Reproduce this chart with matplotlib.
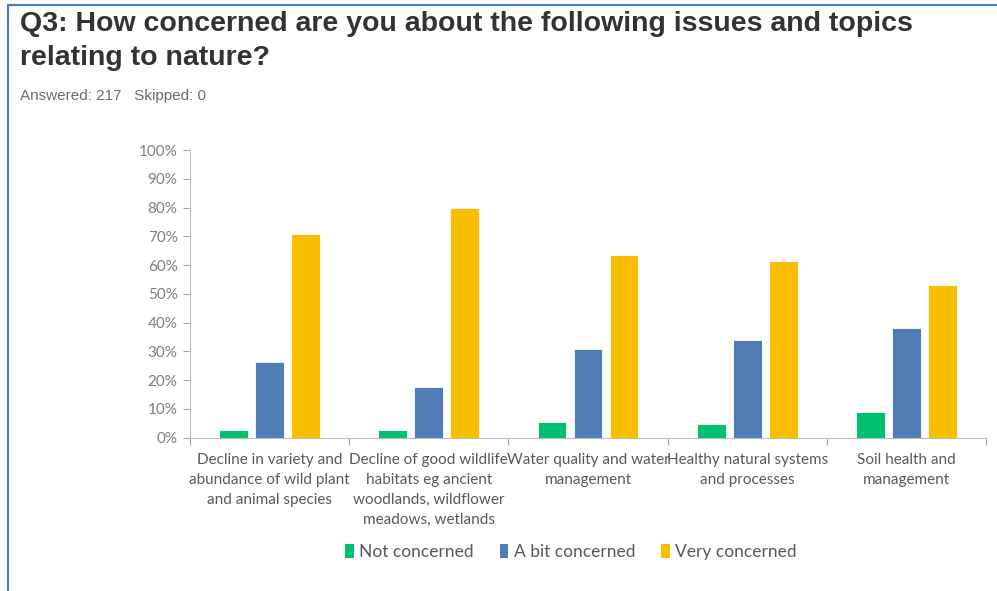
import numpy as np
import matplotlib.pyplot as plt
from matplotlib.lines import Line2D
from matplotlib.patches import Patch
from matplotlib.ticker import FuncFormatter

categories = ['Decline in variety and\nabundance of wild plant\nand animal species',
              'Decline of good wildlife\nhabitats eg ancient\nwoodlands, wildflower\nmeadows, wetlands',
              'Water quality and water\nmanagement',
              'Healthy natural systems\nand processes',
              'Soil health and\nmanagement']
series = ['Not concerned', 'A bit concerned', 'Very concerned']
not_concerned = [2.76, 2.76, 5.53, 4.61, 8.76]
bit_concerned = [26.27, 17.51, 30.88, 34.10, 38.25]
very_concerned = [70.97, 79.72, 63.59, 61.29, 53.00]
colors = ['#00BF6F', '#507DB5', '#F7BF00']

body_font = ['Lato', 'DejaVu Sans']
plt.rcParams['font.family'] = ['Liberation Sans', 'DejaVu Sans']

fig = plt.figure(figsize=(9.97, 5.91), dpi=100)

# frame lines of the survey panel
fig.add_artist(Line2D([8/997, 8/997], [0, 1 - 5/591], color='#4A78C8', lw=1.5))
fig.add_artist(Line2D([8/997, 1], [1 - 5/591, 1 - 5/591], color='#4A78C8', lw=1.5))

fig.text(20/997, 1 - 11/591, 'Q3: How concerned are you about the following issues and topics\nrelating to nature?',
         fontsize=20.5, fontweight='bold', color='#333333', va='top', ha='left', linespacing=1.4)
fig.text(20/997, 1 - 96/591, 'Answered: 217   Skipped: 0', fontsize=11, color='#6b6b6b',
         va='center', ha='left')

ax = fig.add_axes([190/997, 1 - 437.7/591, 796/997, 287.7/591])
x = np.arange(len(categories))
w = 0.18
step = 0.226
for i, (vals, c) in enumerate(zip([not_concerned, bit_concerned, very_concerned], colors)):
    ax.bar(x + (i - 1) * step, np.array(vals) / 100, width=w, color=c,
           edgecolor='white', linewidth=0.6, label=series[i])

ax.set_xlim(-0.5, len(categories) - 0.5)
ax.set_ylim(0, 1)
ax.set_yticks(np.arange(0, 1.01, 0.1))
ax.yaxis.set_major_formatter(FuncFormatter(lambda v, p: '%d%%' % round(v * 100)))
ax.set_xticks(np.arange(-0.5, len(categories), 1))
ax.set_xticklabels([])
ax.set_xticks(x, minor=True)
ax.set_xticklabels(categories, minor=True, fontsize=11, color='#595959',
                   family=body_font, linespacing=1.55, va='top')
ax.tick_params(axis='x', which='minor', length=0, pad=11)
ax.tick_params(axis='x', which='major', length=5, color='#a6a6a6', direction='out')
ax.tick_params(axis='y', length=5, color='#a6a6a6', labelcolor='#7f7f7f', labelsize=11, pad=4)
for lab in ax.get_yticklabels():
    lab.set_family(body_font)
for s in ['top', 'right']:
    ax.spines[s].set_visible(False)
ax.spines['left'].set_color('#bfbfbf')
ax.spines['bottom'].set_color('#bfbfbf')

handles = [Patch(facecolor=c, edgecolor='none') for c in colors]
fig.legend(handles, series, loc='center', bbox_to_anchor=(571/997, 1 - 552/591), ncol=3,
           frameon=False, prop={'family': body_font, 'size': 12.5}, labelcolor='#595959',
           handlelength=0.5, handleheight=0.9, handletextpad=0.3, columnspacing=1.5)

fig.savefig('out.png', dpi=100)
